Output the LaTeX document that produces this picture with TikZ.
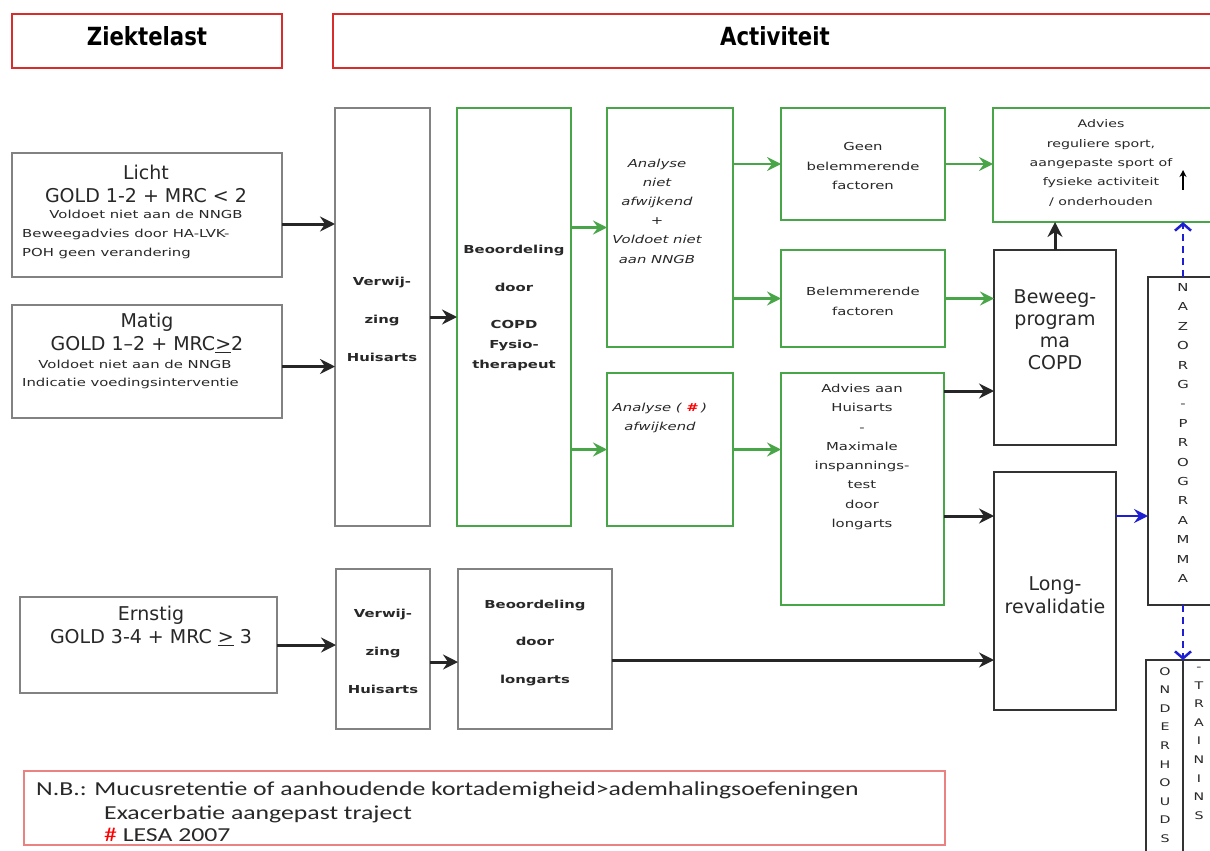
\documentclass[tikz,border=0pt]{standalone}
\usepackage{fontspec}
\setmainfont{DejaVu Sans}
\newfontfamily\sm[FakeStretch=1.35]{DejaVu Sans}
\newfontfamily\hd[FakeStretch=0.85]{DejaVu Sans}
\newfontfamily\nb[FakeStretch=1.3]{Carlito}
\usetikzlibrary{arrows.meta,fit}
\definecolor{grn}{RGB}{72,165,72}
\definecolor{hred}{RGB}{215,45,45}
\definecolor{nred}{RGB}{235,130,130}
\definecolor{blu}{RGB}{30,30,210}
\definecolor{txt}{RGB}{40,40,40}
\definecolor{gbord}{RGB}{130,130,130}
\tikzset{
 bx/.style={inner sep=0pt, outer sep=0pt, fill=white},
 redbox/.style={bx, draw=hred, line width=2.5pt},
 graybox/.style={bx, draw=gbord, line width=2pt},
 greenbox/.style={bx, draw=grn, line width=2.2pt},
 darkbox/.style={bx, draw=black!80, line width=2.6pt},
 notebox/.style={bx, draw=nred, line width=1.5pt},
 lbl/.style={inner sep=0pt, text=txt, align=center},
 small/.style={font=\sm\fontsize{11}{19.3}\selectfont},
 smallb/.style={font=\sm\bfseries\fontsize{11}{38}\selectfont},
 big/.style={font=\fontsize{19}{23}\selectfont},
 arr/.style={line width=3pt, draw=black!85, -{Stealth[length=15pt,width=15pt,inset=5pt]}},
 garr/.style={line width=2.6pt, draw=grn, -{Stealth[length=14pt,width=14pt,inset=5pt]}},
 barr/.style={line width=2.6pt, draw=blu, -{Stealth[length=14pt,width=14pt,inset=5pt]}},
 bdash/.style={line width=2.5pt, draw=blu, dash pattern=on 7pt off 5pt, -{Straight Barb[length=7pt,width=16pt]}},
}
\begin{document}
\begin{tikzpicture}[x=1pt,y=-1pt]
\useasboundingbox[fill=white] (0,0) rectangle (1210,851);

% headers
\node[redbox, fit={(12,14) (282,68)}] (hz) {};
\node[redbox, fit={(333,14) (1218,68)}] (ha) {};
\node[lbl, font=\hd\bfseries\fontsize{25}{30}\selectfont, text=black] (thz) at (147,36) {Ziektelast};
\node[lbl, font=\hd\bfseries\fontsize{25}{30}\selectfont, text=black] (tha) at (775,36) {Activiteit};

% left column
\node[graybox, fit={(12,153) (282,277)}] (licht) {};
\node[graybox, fit={(12,305) (282,418)}] (matig) {};
\node[graybox, fit={(20,597) (277,693)}] (ern) {};

\node[lbl, big] (tl1) at (146,184) {Licht\\GOLD 1-2 + MRC < 2};
\node[lbl, small] (tl2) at (146,214) {Voldoet niet aan de NNGB};
\node[lbl, small, align=left, anchor=west] (tl3) at (22,244) {Beweegadvies door HA-LVK-\\POH geen verandering};

\node[lbl, big] (tm1) at (147,333) {Matig\\GOLD 1–2 + MRC\underline{>}2};
\node[lbl, small] (tm2) at (135,364) {Voldoet niet aan de NNGB};
\node[lbl, small, anchor=west] (tm3) at (22,383) {Indicatie voedingsinterventie};

\node[lbl, big] (te1) at (151,626) {Ernstig\\GOLD 3-4 + MRC \underline{>} 3};

% referral column
\node[graybox, fit={(335,108) (430,526)}] (verw1) {};
\node[greenbox, fit={(457,108) (571,526)}] (beo1) {};
\node[graybox, fit={(336,569) (430,729)}] (verw2) {};
\node[graybox, fit={(458,569) (612,729)}] (beoL) {};

\node[lbl, smallb] (tv1) at (382,319) {Verwij-\\zing\\Huisarts};
\node[lbl, font=\sm\bfseries\fontsize{11}{20}\selectfont] (tb1) at (514,308) {Beoordeling\\[18pt]door\\[17pt]COPD\\Fysio-\\therapeut};
\node[lbl, smallb] (tv2) at (383,651) {Verwij-\\zing\\Huisarts};
\node[lbl, font=\sm\bfseries\fontsize{11}{37.5}\selectfont] (tb2) at (535,643) {Beoordeling\\door\\longarts};

% analysis
\node[greenbox, fit={(607,108) (733,347)}] (anaN) {};
\node[greenbox, fit={(607,373) (733,526)}] (anaA) {};
\node[lbl, small, font=\sm\itshape\fontsize{11}{19.2}\selectfont] (tan) at (657,211) {Analyse\\niet\\afwijkend\\+\\Voldoet niet\\aan NNGB};
\node[lbl, small, font=\sm\itshape\fontsize{11}{18.5}\selectfont] (taa) at (660,418) {Analyse ( {\color{red}\bfseries\#} )\\afwijkend};

% factors
\node[greenbox, fit={(781,108) (945,220)}] (geen) {};
\node[greenbox, fit={(781,250) (945,347)}] (bel) {};
\node[greenbox, fit={(781,373) (944,605)}] (advH) {};
\node[lbl, small] (tg) at (863,166) {Geen\\belemmerende\\factoren};
\node[lbl, small, font=\sm\fontsize{11}{20}\selectfont] (tbl) at (863,301) {Belemmerende\\factoren};
\node[lbl, small] (tah) at (862,457) {Advies aan\\Huisarts\\-\\Maximale\\inspannings-\\test\\door\\longarts};

% programmes
\node[greenbox, fit={(993,108) (1218,222)}] (advR) {};
\node[darkbox, fit={(994,250) (1116,445)}] (bew) {};
\node[darkbox, fit={(994,472) (1116,710)}] (lrev) {};
\node[lbl, small, font=\sm\fontsize{10.5}{19.3}\selectfont] (tar) at (1101,163) {Advies\\reguliere sport,\\aangepaste sport of\\fysieke activiteit\\/ onderhouden};
\node[lbl, font=\fontsize{19}{22}\selectfont] (tbw) at (1055,330) {Beweeg-\\program\\ma\\COPD};
\node[lbl, font=\fontsize{19}{23}\selectfont] (tlr) at (1055,595) {Long-\\revalidatie};

% aftercare
\node[darkbox, line width=2.2pt, fit={(1148,277) (1218,605)}] (naz) {};
\node[darkbox, line width=2.2pt, fit={(1146,660) (1220,870)}] (ond) {};
\draw[black!80, line width=2.2pt] (ond.north) -- (ond.south);
\node[lbl, font=\sm\fontsize{11}{19.4}\selectfont] (tnz) at (1183,433) {N\\A\\Z\\O\\R\\G\\-\\P\\R\\O\\G\\R\\A\\M\\M\\A};
\node[lbl, font=\sm\fontsize{10.5}{18.6}\selectfont, anchor=north] (to1) at (1165,667) {O\\N\\D\\E\\R\\H\\O\\U\\D\\S};
\node[lbl, font=\sm\fontsize{10.5}{18.6}\selectfont, anchor=north] (to2) at (1199,667) {-\\T\\R\\A\\I\\N\\I\\N\\S};

% note
\node[notebox, fit={(24,771) (945,845)}] (note) {};
\node[lbl, align=left, anchor=west, font=\nb\fontsize{19.8}{23}\selectfont] (tn1) at (36,790) {N.B.: Mucusretentie of aanhoudende kortademigheid>ademhalingsoefeningen};
\node[lbl, align=left, anchor=west, font=\nb\fontsize{19.8}{22}\selectfont] (tn2) at (104,824) {Exacerbatie aangepast traject\\{\color{red}\#} LESA 2007};

% connectors
\coordinate (la) at ([yshift=-9pt]licht.east);
\draw[arr] (la) -- (la -| verw1.west);
\coordinate (ma) at ([yshift=-5pt]matig.east);
\draw[arr] (ma) -- (ma -| verw1.west);
\draw[arr] (verw1.east) -- (verw1.east -| beo1.west);
\draw[garr] (beo1.east |- anaN.west) -- (anaN.west);
\draw[garr] (beo1.east |- anaA.west) -- (anaA.west);
\draw[garr] (anaN.east |- geen.west) -- (geen.west);
\draw[garr] (anaN.east |- bel.west) -- (bel.west);
\draw[garr] (anaA.east) -- (anaA.east -| advH.west);
\draw[garr] (geen.east) -- (geen.east -| advR.west);
\draw[garr] (bel.east) -- (bel.east -| bew.west);
\coordinate (h1) at ([yshift=-18pt]advH.north east);
\draw[arr] (h1) -- (h1 -| bew.west);
\coordinate (h2) at ([yshift=-143pt]advH.north east);
\draw[arr] (h2) -- (h2 -| lrev.west);
\coordinate (l1) at ([yshift=-11pt]beoL.east);
\draw[arr] (l1) -- (l1 -| lrev.west);
\draw[arr] (ern.east) -- (ern.east -| verw2.west);
\coordinate (v2) at ([yshift=-13pt]verw2.east);
\draw[arr] (v2) -- (v2 -| beoL.west);
\draw[arr] (bew.north) -- (bew.north |- advR.south);
\coordinate (r1) at ([yshift=-44pt]lrev.north east);
\draw[barr] (r1) -- (r1 -| naz.west);
\draw[bdash] (naz.north) -- (naz.north |- advR.south);
\draw[bdash] (naz.south) -- (naz.south |- ond.north);
\coordinate (sa1) at (1183,190);
\coordinate (sa2) at (1183,170);
\draw[line width=1.4pt, black, -{Stealth[length=7pt,width=7pt]}] (sa1) -- (sa2);
\end{tikzpicture}
\end{document}
